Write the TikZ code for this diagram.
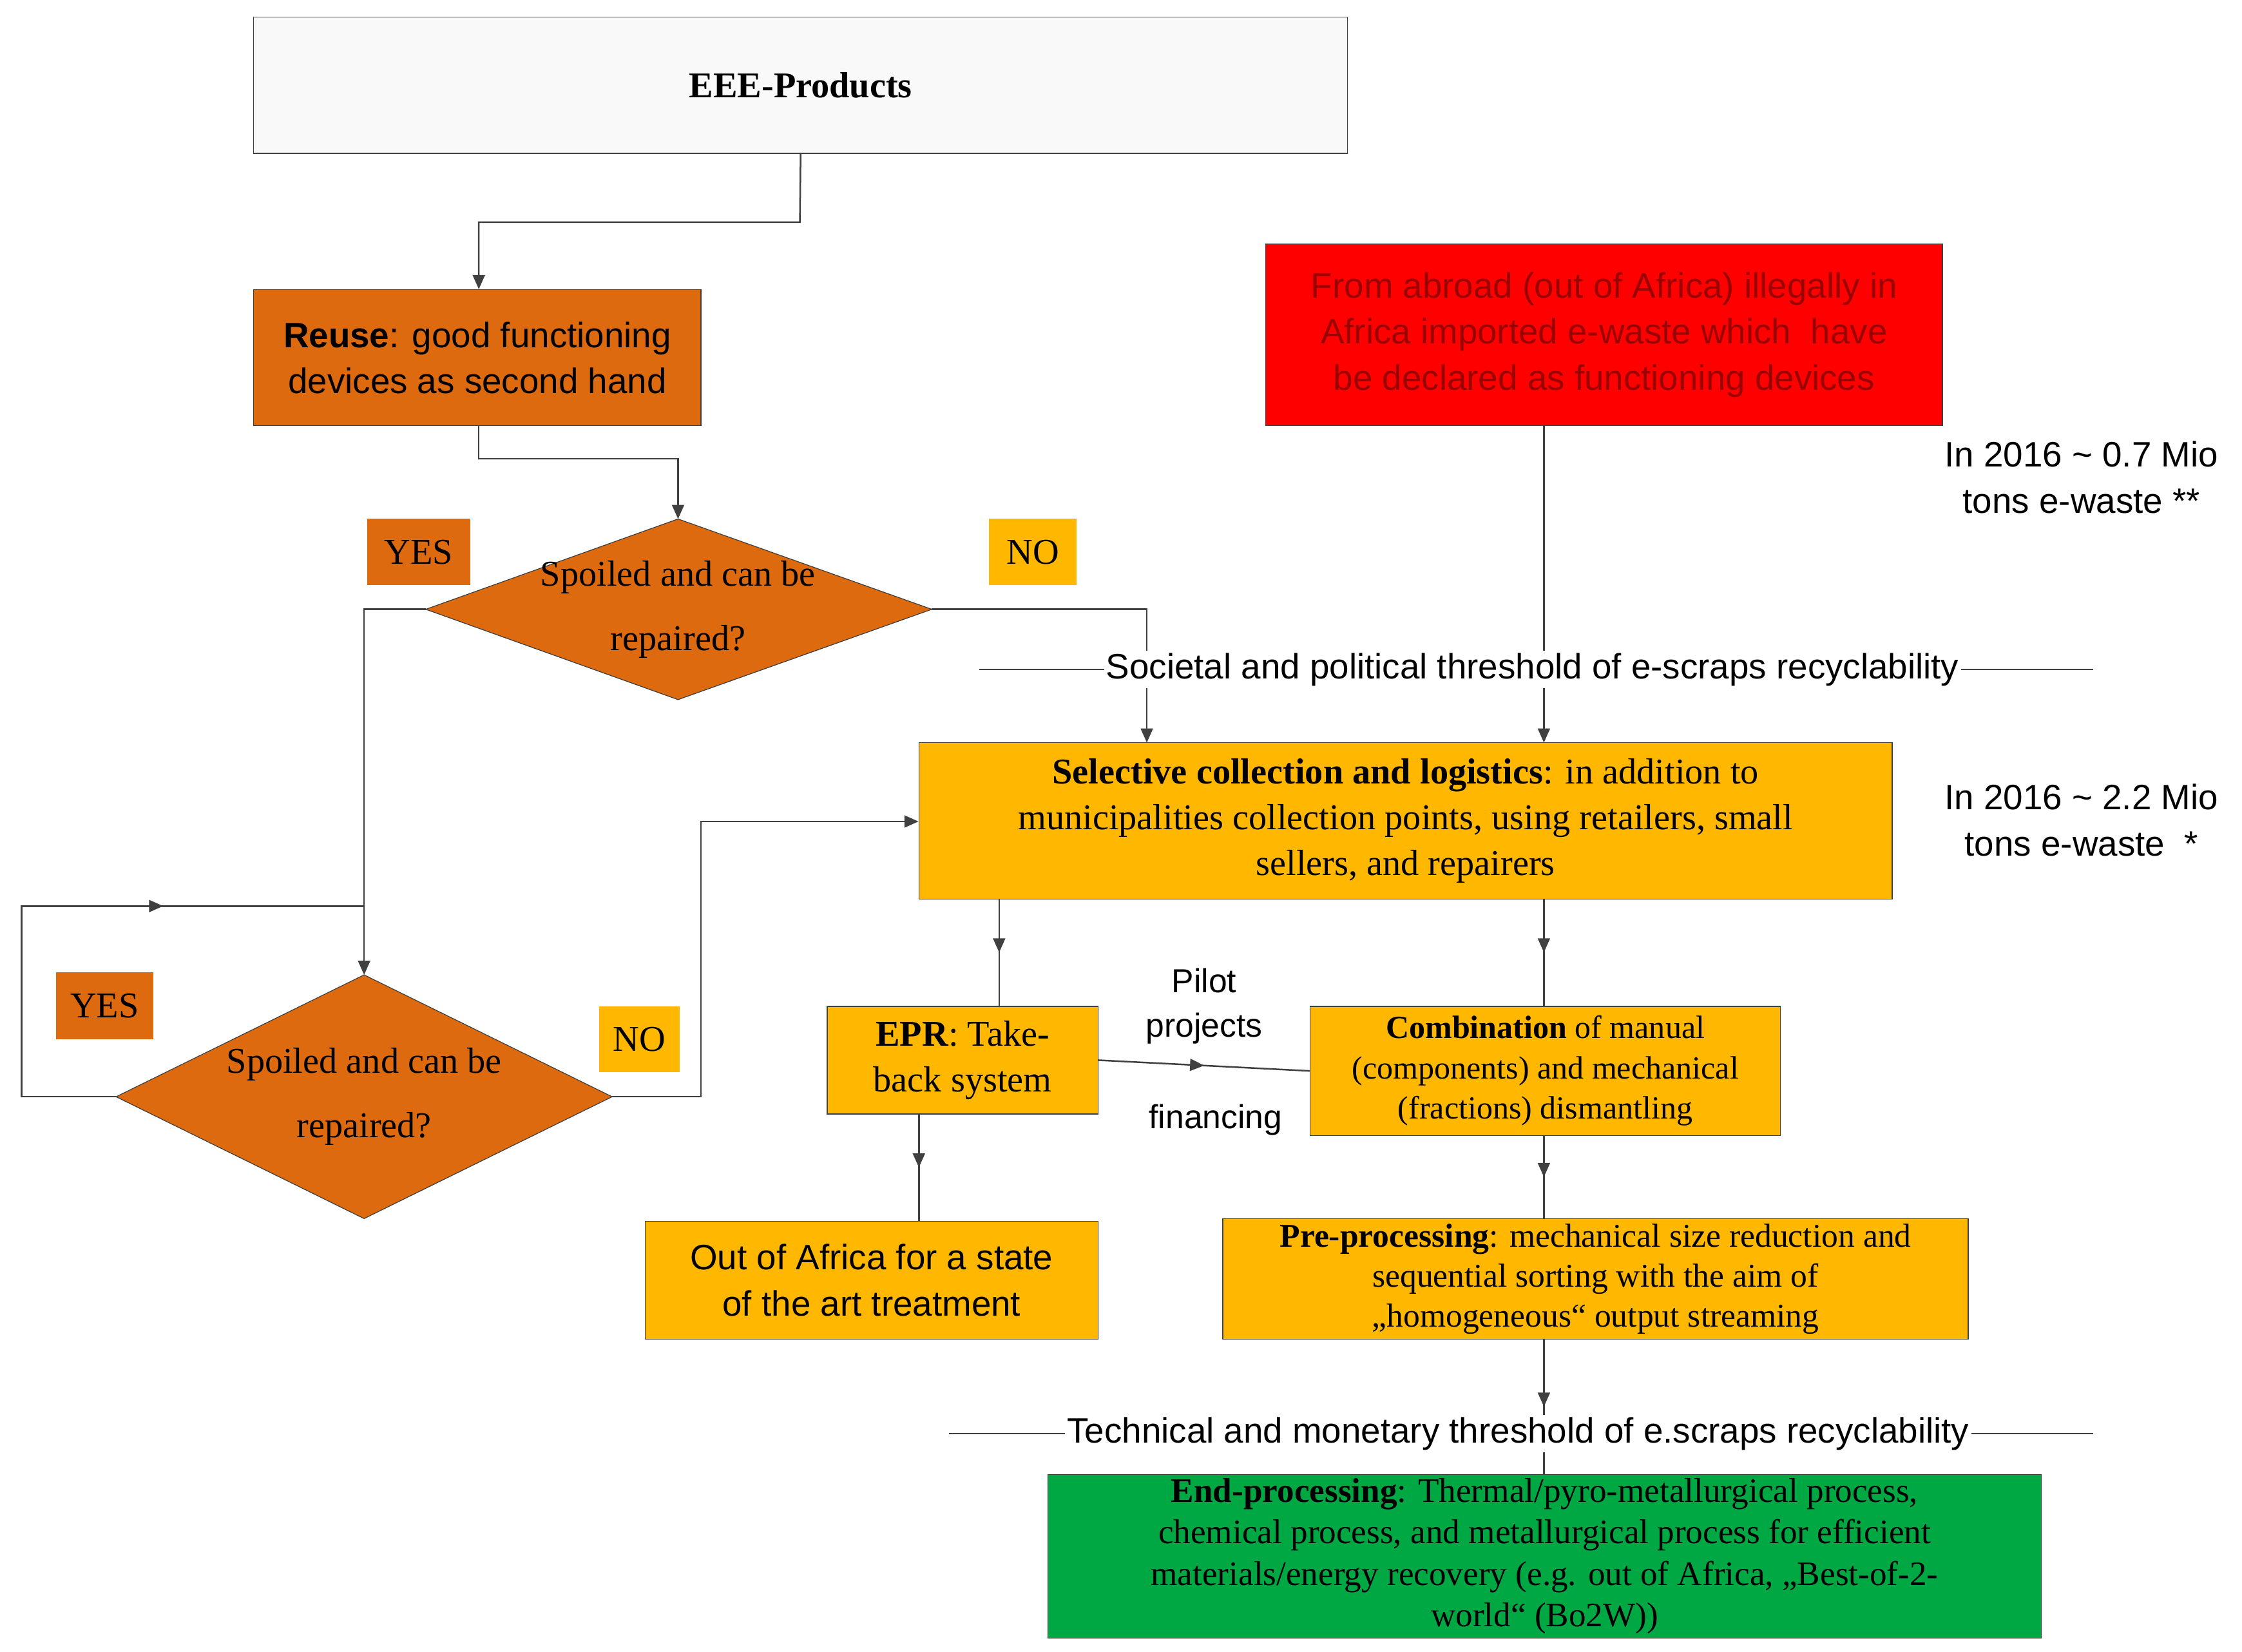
\documentclass[tikz,border=0pt]{standalone}
\usepackage{fontspec}
\setmainfont{Liberation Serif}
\newfontfamily\sansf{Liberation Sans}
\usetikzlibrary{calc,positioning,arrows.meta,shapes.geometric,decorations.markings}

\definecolor{darkorange}{HTML}{DD6A0E}
\definecolor{goldbox}{HTML}{FFB700}
\definecolor{greenbox}{HTML}{00A844}
\definecolor{linegray}{HTML}{404040}
\definecolor{redtext}{HTML}{9A0000}

\tikzset{
	box/.style={draw=linegray,thin,align=center,inner sep=2pt},
	sbox/.style={box,font=\sansf\fontsize{17.5}{22.8}\selectfont},
	rbox/.style={box,font=\fontsize{18}{22.8}\selectfont},
	tag/.style={draw=none,font=\fontsize{18}{22}\selectfont,inner sep=0pt},
	flow/.style={draw=linegray,thick,-{Triangle[length=7pt,width=6pt]}},
	midflow/.style={draw=linegray,thick,postaction={decorate},
		decoration={markings,mark=at position #1 with {\arrow{Triangle[length=7pt,width=6pt]}}}},
	midflow/.default=0.5,
	threshold/.style={fill=white,font=\sansf\fontsize{17.5}{21}\selectfont,inner sep=1pt},
}

\begin{document}
\begin{tikzpicture}[x=0.025cm,y=-0.025cm]
	\useasboundingbox (0,0) rectangle (1564,1152);

	% boxes
	\node [box,fill=gray!5,minimum width=763*0.025cm,minimum height=95*0.025cm,
		font=\bfseries\fontsize{18}{22}\selectfont] (eee) at (558.5,59.5) {EEE-Products};
	\node [sbox,fill=darkorange,minimum width=312*0.025cm,minimum height=95*0.025cm] (reuse) at (333,249.5)
		{\textbf{Reuse}: good functioning\\devices as second hand};
	\node [sbox,fill=red,text=redtext,minimum width=472*0.025cm,minimum height=127*0.025cm] (abroad) at (1119,233.5)
		{From abroad (out of Africa) illegally in\\Africa imported e-waste which\ \ have\\be declared as functioning devices};
	\node [rbox,fill=goldbox,minimum width=679*0.025cm,minimum height=109*0.025cm] (sel) at (980.5,572.5)
		{\textbf{Selective collection and logistics}: in addition to\\municipalities collection points, using retailers, small\\sellers, and repairers};
	\node [rbox,fill=goldbox,minimum width=189*0.025cm,minimum height=75*0.025cm] (epr) at (671.5,739.5)
		{\textbf{EPR}: Take-\\back system};
	\node [box,fill=goldbox,minimum width=328*0.025cm,minimum height=90*0.025cm,
		font=\fontsize{16}{20}\selectfont] (comb) at (1078,747)
		{\textbf{Combination} of manual\\(components) and mechanical\\(fractions) dismantling};
	\node [sbox,fill=goldbox,minimum width=316*0.025cm,minimum height=82*0.025cm] (outaf) at (608,893)
		{Out of Africa for a state\\of the art treatment};
	\node [box,fill=goldbox,minimum width=520*0.025cm,minimum height=84*0.025cm,
		font=\fontsize{16.5}{19.8}\selectfont] (pre) at (1113,892)
		{\textbf{Pre-processing}: mechanical size reduction and\\sequential sorting with the aim of\\„homogeneous“ output streaming};
	\node [box,fill=greenbox,minimum width=693*0.025cm,minimum height=113*0.025cm,
		font=\fontsize{17}{20.6}\selectfont] (endp) at (1077.5,1085.5)
		{\textbf{End-processing}: Thermal/pyro-metallurgical process,\\chemical process, and metallurgical process for efficient\\materials/energy recovery (e.g. out of Africa, „Best-of-2-\\world“ (Bo2W))};

	% decisions
	\coordinate (d1t) at (473,362); \coordinate (d1b) at (473,488);
	\coordinate (d1l) at (297,425); \coordinate (d1r) at (650,425);
	\coordinate (d2t) at (254,680); \coordinate (d2b) at (254,850);
	\coordinate (d2l) at (81,765);  \coordinate (d2r) at (427,765);
	\draw [linegray,fill=darkorange] (d1t) -- (d1r) -- (d1b) -- (d1l) -- cycle;
	\draw [linegray,fill=darkorange] (d2t) -- (d2r) -- (d2b) -- (d2l) -- cycle;
	\node [align=center,font=\fontsize{18}{32}\selectfont] (d1) at (473,425) {Spoiled and can be\\repaired?};
	\node [align=center,font=\fontsize{18}{32}\selectfont] (d2) at (254,765) {Spoiled and can be\\repaired?};

	\node [tag,fill=darkorange,minimum width=72*0.025cm,minimum height=46*0.025cm] (yes1) at (292,385) {YES};
	\node [tag,fill=goldbox,minimum width=61*0.025cm,minimum height=46*0.025cm] (no1) at (720.5,385) {NO};
	\node [tag,fill=darkorange,minimum width=68*0.025cm,minimum height=47*0.025cm] (yes2) at (73,701.5) {YES};
	\node [tag,fill=goldbox,minimum width=56*0.025cm,minimum height=46*0.025cm] (no2) at (446,725) {NO};

	% side notes
	\node [sbox,draw=none] (note1) at (1452,333) {In 2016 \textasciitilde{} 0.7 Mio\\tons e-waste **};
	\node [sbox,draw=none] (note2) at (1452,572) {In 2016 \textasciitilde{} 2.2 Mio\\tons e-waste\ \ *};

	% connectors
	\coordinate (c1) at (558,155); \coordinate (c2) at (334,155);
	\draw [flow] (eee.south) -- (c1) -- (c2) -- (reuse.north -| c2);
	\coordinate (c3) at (334,320); \coordinate (c4) at (473,320);
	\draw [flow] (reuse.south -| c3) -- (c3) -- (c4) -- (d1t);
	\coordinate (c5) at (800,425); \coordinate (s1) at (800,518);
	\draw [flow] (d1r) -- (c5) -- (s1);
	\coordinate (s2) at (1077,518);
	\draw [flow] (abroad.south -| s2) -- (s2);
	\coordinate (c6) at (254,425);
	\draw [flow] (d1l) -- (c6) -- (d2t);
	\coordinate (c7) at (15,765); \coordinate (c8) at (15,632); \coordinate (c9) at (254,632);
	\draw [midflow=0.68] (d2l) -- (c7) -- (c8) -- (c9);
	\coordinate (c10) at (489,765); \coordinate (c11) at (489,573);
	\draw [flow] (d2r) -- (c10) -- (c11) -- (sel.west |- c11);
	\coordinate (s3) at (697,627);
	\draw [midflow] (s3) -- (epr.north -| s3);
	\coordinate (s4) at (1077,627);
	\draw [midflow] (s4) -- (comb.north -| s4);
	\draw [midflow] (comb.south -| s4) -- (pre.north -| s4);
	\coordinate (e1) at (641,777);
	\draw [midflow] (e1) -- (outaf.north -| e1);
	\draw [midflow] (pre.south -| s4) -- (endp.north -| s4);
	\draw [midflow] (epr.east) -- (comb.west);
	\node [sbox,draw=none,font=\sansf\fontsize{16.5}{22}\selectfont] (pilot) at (840,702) {Pilot\\projects};
	\node [sbox,draw=none,font=\sansf\fontsize{16.5}{22}\selectfont] (fin) at (848,781) {financing};

	% thresholds
	\coordinate (t1a) at (683,467); \coordinate (t1b) at (1460,467);
	\draw [linegray] (t1a) -- (t1b);
	\node [threshold] (th1) at (1069,467) {Societal and political threshold of e-scraps recyclability};
	\coordinate (t2a) at (662,1000); \coordinate (t2b) at (1460,1000);
	\draw [linegray] (t2a) -- (t2b);
	\node [threshold] (th2) at (1059,1000) {Technical and monetary threshold of e.scraps recyclability};
\end{tikzpicture}
\end{document}
